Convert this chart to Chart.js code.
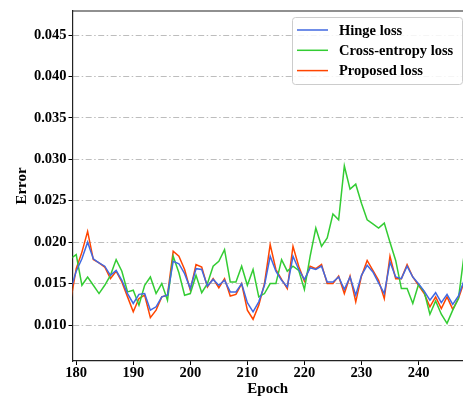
<!DOCTYPE html>
<html>
<head>
<meta charset="utf-8">
<script src="https://cdn.jsdelivr.net/npm/chart.js@4.4.0/dist/chart.umd.min.js"></script>
<style>
    html, body { margin: 0; padding: 0; background: #fff; }
</style>
</head>
<body>
<canvas id="myChart" width="463" height="396"></canvas>
<script>
// epochs 179..248
var epochs = [179, 180, 181, 182, 183, 184, 185, 186, 187, 188, 189, 190, 191, 192, 193, 194, 195, 196, 197, 198,
    199, 200, 201, 202, 203, 204, 205, 206, 207, 208, 209, 210, 211, 212, 213, 214, 215, 216, 217, 218,
    219, 220, 221, 222, 223, 224, 225, 226, 227, 228, 229, 230, 231, 232, 233, 234, 235, 236, 237, 238,
    239, 240, 241, 242, 243, 244, 245, 246, 247, 248];

var hingeLoss = [0.0142, 0.0165, 0.0180, 0.0200, 0.0180, 0.0175, 0.0171, 0.0160, 0.0166, 0.0154,
    0.0138, 0.0126, 0.0137, 0.0138, 0.0118, 0.0122, 0.0134, 0.0136, 0.0177, 0.0174,
    0.0162, 0.0144, 0.0168, 0.0167, 0.0147, 0.0155, 0.0148, 0.0154, 0.0140, 0.0140,
    0.0150, 0.0127, 0.0116, 0.0128, 0.0148, 0.0183, 0.0165, 0.0154, 0.0146, 0.0183,
    0.0167, 0.0155, 0.0169, 0.0167, 0.0171, 0.0152, 0.0152, 0.0158, 0.0143, 0.0158,
    0.0136, 0.0160, 0.0172, 0.0164, 0.0151, 0.0138, 0.0176, 0.0158, 0.0156, 0.0171,
    0.0158, 0.0150, 0.0141, 0.0130, 0.0139, 0.0127, 0.0137, 0.0125, 0.0135, 0.0154];

var crossEntropyLoss = [0.0180, 0.0185, 0.0148, 0.0158, 0.0148, 0.0138, 0.0148, 0.0160, 0.0179, 0.0165,
    0.0140, 0.0142, 0.0124, 0.0148, 0.0158, 0.0138, 0.0150, 0.0130, 0.0183, 0.0163,
    0.0136, 0.0138, 0.0160, 0.0139, 0.0150, 0.0171, 0.0177, 0.0191, 0.0152, 0.0152,
    0.0171, 0.0148, 0.0167, 0.0134, 0.0138, 0.0150, 0.0150, 0.0179, 0.0165, 0.0171,
    0.0166, 0.0143, 0.0183, 0.0217, 0.0195, 0.0205, 0.0234, 0.0227, 0.0292, 0.0264,
    0.0270, 0.0247, 0.0227, 0.0222, 0.0217, 0.0223, 0.0200, 0.0178, 0.0144, 0.0144,
    0.0126, 0.0149, 0.0140, 0.0113, 0.0129, 0.0113, 0.0102, 0.0118, 0.0132, 0.0185];

var proposedLoss = [0.0128, 0.0168, 0.0188, 0.0213, 0.0179, 0.0175, 0.0170, 0.0156, 0.0165, 0.0152,
    0.0134, 0.0116, 0.0132, 0.0136, 0.0109, 0.0118, 0.0134, 0.0136, 0.0189, 0.0183,
    0.0167, 0.0142, 0.0173, 0.0170, 0.0146, 0.0156, 0.0145, 0.0156, 0.0135, 0.0137,
    0.0150, 0.0118, 0.0107, 0.0124, 0.0150, 0.0197, 0.0167, 0.0155, 0.0144, 0.0195,
    0.0171, 0.0153, 0.0171, 0.0168, 0.0173, 0.0150, 0.0150, 0.0159, 0.0138, 0.0159,
    0.0128, 0.0159, 0.0178, 0.0166, 0.0154, 0.0132, 0.0183, 0.0156, 0.0156, 0.0173,
    0.0158, 0.0148, 0.0138, 0.0122, 0.0134, 0.0120, 0.0134, 0.0119, 0.0132, 0.0152];

var xTicks = [180, 190, 200, 210, 220, 230, 240];
var yTicks = [0.010, 0.015, 0.020, 0.025, 0.030, 0.035, 0.040, 0.045];

var serif = '"Liberation Serif", "Times New Roman", serif';

function toPoints(vals) {
    var pts = [];
    for (var i in vals) {
        pts.push({ x: epochs[i], y: vals[i] });
    }
    return pts;
}

// top spine + legend box drawn inside the plot area
var framePlugin = {
    id: 'framePlugin',
    afterDraw: function (chart) {
        var ctx = chart.ctx;
        var a = chart.chartArea;
        ctx.save();
        ctx.strokeStyle = '#222';
        ctx.lineWidth = 1.2;
        ctx.beginPath();
        ctx.moveTo(a.left, a.top);
        ctx.lineTo(a.right, a.top);
        ctx.stroke();

        var w = 170, h = 67;
        var x0 = a.right - w - 1, y0 = a.top + 6;
        ctx.fillStyle = 'rgba(255,255,255,0.85)';
        ctx.strokeStyle = '#cccccc';
        ctx.lineWidth = 1;
        ctx.beginPath();
        ctx.roundRect(x0 + 0.5, y0 + 0.5, w, h, 3);
        ctx.fill();
        ctx.stroke();

        chart.data.datasets.forEach(function (ds, i) {
            var y = y0 + 13 + i * 20.3;
            ctx.strokeStyle = ds.borderColor;
            ctx.lineWidth = 1.5;
            ctx.beginPath();
            ctx.moveTo(x0 + 5, y);
            ctx.lineTo(x0 + 36, y);
            ctx.stroke();
            ctx.fillStyle = '#000';
            ctx.font = 'bold 14.5px ' + serif;
            ctx.textBaseline = 'middle';
            ctx.fillText(ds.label, x0 + 47, y + 1);
        });
        ctx.restore();
    }
};

var ctx = document.getElementById('myChart');
var lossChart = new Chart(ctx, {
    type: 'line',
    data: {
        datasets: [
            { label: 'Hinge loss', data: toPoints(hingeLoss), borderColor: '#4169E1' },
            { label: 'Cross-entropy loss', data: toPoints(crossEntropyLoss), borderColor: '#33CC33' },
            { label: 'Proposed loss', data: toPoints(proposedLoss), borderColor: '#FF4500' }
        ]
    },
    options: {
        responsive: false,
        animation: false,
        layout: { padding: { top: 11, left: 0, right: 0, bottom: 0 } },
        elements: {
            point: { radius: 0 },
            line: { tension: 0, borderWidth: 1.5, fill: false }
        },
        plugins: {
            legend: { display: false },
            tooltip: { enabled: false }
        },
        scales: {
            x: {
                type: 'linear',
                min: 179.35,
                max: 247.8,
                afterBuildTicks: function (axis) {
                    axis.ticks = xTicks.map(function (v) { return { value: v }; });
                },
                afterFit: function (axis) { axis.height = 35; },
                grid: { drawOnChartArea: false, tickLength: 4, tickColor: '#000', tickWidth: 1 },
                border: { color: '#222', width: 1.2 },
                ticks: {
                    color: '#000', padding: 0, maxRotation: 0, autoSkip: false,
                    font: { family: serif, size: 14.5, weight: 'bold' }
                },
                title: {
                    display: true, text: 'Epoch', color: '#000', padding: { top: 0, bottom: -2 },
                    font: { family: serif, size: 15, weight: 'bold' }
                }
            },
            y: {
                min: 0.00566,
                max: 0.0479,
                afterBuildTicks: function (axis) {
                    axis.ticks = yTicks.map(function (v) { return { value: v }; });
                },
                afterFit: function (axis) { axis.width = 72.5; },
                grid: {
                    color: '#b5b5b5', lineWidth: 0.9,
                    tickLength: 4, tickColor: '#000', tickWidth: 1, tickBorderDash: []
                },
                border: { color: '#222', width: 1.2, dash: [6, 2.5, 1.5, 2.5] },
                ticks: {
                    color: '#000', padding: 2,
                    font: { family: serif, size: 14.5, weight: 'bold' },
                    callback: function (v) { return v.toFixed(3); }
                },
                title: {
                    display: true, text: 'Error', color: '#000', padding: { top: 13, bottom: 0 },
                    font: { family: serif, size: 15, weight: 'bold' }
                }
            }
        }
    },
    plugins: [framePlugin]
});
</script>
</body>
</html>
